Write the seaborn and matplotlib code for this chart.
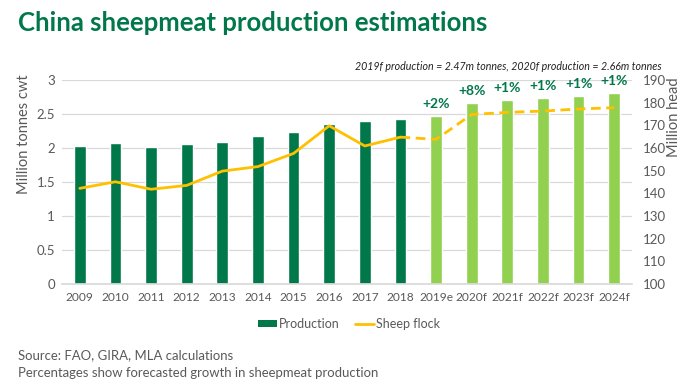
import numpy as np
import pandas as pd
import matplotlib
matplotlib.use("Agg")
import matplotlib.pyplot as plt
import seaborn as sns
from matplotlib.patches import Patch
from matplotlib.lines import Line2D

years = ["2009", "2010", "2011", "2012", "2013", "2014", "2015", "2016", "2017",
         "2018", "2019e", "2020f", "2021f", "2022f", "2023f", "2024f"]
production = [2.03, 2.07, 2.02, 2.06, 2.09, 2.17, 2.24, 2.35, 2.39, 2.42,
              2.47, 2.66, 2.70, 2.74, 2.77, 2.81]
flock = [142.2, 145.1, 141.8, 143.5, 149.8, 151.8, 157.6, 169.8, 160.9, 164.8,
         163.8, 174.8, 175.7, 176.3, 177.2, 177.8]
growth_labels = ["", "", "", "", "", "", "", "", "", "",
                 "+2%", "+8%", "+1%", "+1%", "+1%", "+1%"]
n_actual = 10  # 2009-2018 actual

sns.set_theme(style="white")
plt.rcParams['font.family'] = ['Lato', 'DejaVu Sans']

DARK = "#00784A"
LIGHT = "#92D050"
GOLD = "#FFC000"
GREY = "#595959"

fig = plt.figure(figsize=(7, 3.9), dpi=100)
ax = fig.add_axes([62/700, 1-284/390, 570/700, 204/390])

df = pd.DataFrame({"year": years, "production": production})
colors = [DARK if i < n_actual else LIGHT for i in range(len(years))]
sns.barplot(data=df, x="year", y="production", hue="year", palette=colors,
            legend=False, width=0.33, ax=ax, saturation=1)
ax.set_xlim(-0.5, len(years) - 0.5)
ax.set_ylim(0, 3)
ax.set_yticks([0, 0.5, 1, 1.5, 2, 2.5, 3])
ax.set_yticklabels(["0", "0.5", "1", "1.5", "2", "2.5", "3"])
ax.yaxis.grid(True, color="#D9D9D9", linewidth=0.9)
ax.set_axisbelow(True)
for s in ax.spines.values():
    s.set_visible(False)
ax.spines["bottom"].set_visible(True)
ax.spines["bottom"].set_color("#D9D9D9")
ax.tick_params(axis="y", length=0, colors=GREY, labelsize=9.5, pad=5)
ax.tick_params(axis="x", length=0, colors=GREY, labelsize=8.6, pad=6)
ax.set_xlabel("")
ax.set_ylabel("Million tonnes cwt", color=GREY, fontsize=10.5)
ax.yaxis.set_label_coords(-0.055, 0.735)

for i, lab in enumerate(growth_labels):
    if lab:
        ax.text(i, production[i] + 0.09, lab, ha="center", va="bottom",
                color=DARK, fontsize=10, fontweight="bold")

ax2 = ax.twinx()
xpos = np.arange(len(years))
solid = pd.DataFrame({"x": xpos[:n_actual], "y": flock[:n_actual]})
dashed = pd.DataFrame({"x": xpos[n_actual - 1:], "y": flock[n_actual - 1:]})
sns.lineplot(data=solid, x="x", y="y", color=GOLD, linewidth=2, ax=ax2)
sns.lineplot(data=dashed, x="x", y="y", color=GOLD, linewidth=2, ax=ax2,
             linestyle=(0, (3.5, 2)))
ax2.set_ylim(100, 190)
ax2.set_yticks(range(100, 191, 10))
ax2.set_xlim(-0.5, len(years) - 0.5)
for s in ax2.spines.values():
    s.set_visible(False)
ax2.tick_params(axis="y", length=0, colors=GREY, labelsize=9.5, pad=7.5)
ax2.set_xlabel("")
ax2.set_ylabel("Million head", color=GREY, fontsize=10.5)
ax2.yaxis.set_label_coords(1.062, 0.82)

fig.text(18/700, 1-23/390, "China sheepmeat production estimations",
         color=DARK, fontsize=18.5, fontweight="bold", va="center", ha="left")
fig.text(662/700, 1-66/390,
         "2019f production = 2.47m tonnes, 2020f production = 2.66m tonnes",
         style="italic", fontsize=7.7, color="#222222", ha="right", va="center")

handles = [Patch(facecolor=DARK, edgecolor="none", label="Production"),
           Line2D([0], [0], color=GOLD, linewidth=2, label="Sheep flock")]
fig.legend(handles=handles, loc="center", bbox_to_anchor=(349/700, 1-324/390),
           ncol=2, frameon=False, fontsize=9, labelcolor=GREY,
           handlelength=1.5, handletextpad=0.2, columnspacing=1.2,
           handleheight=0.45)

fig.text(18/700, 1-355/390, "Source: FAO, GIRA, MLA calculations",
         fontsize=9.45, color=GREY, ha="left", va="center")
fig.text(18/700, 1-373/390, "Percentages show forecasted growth in sheepmeat production",
         fontsize=9.45, color=GREY, ha="left", va="center")

fig.savefig("out.png", dpi=100, facecolor="white")
